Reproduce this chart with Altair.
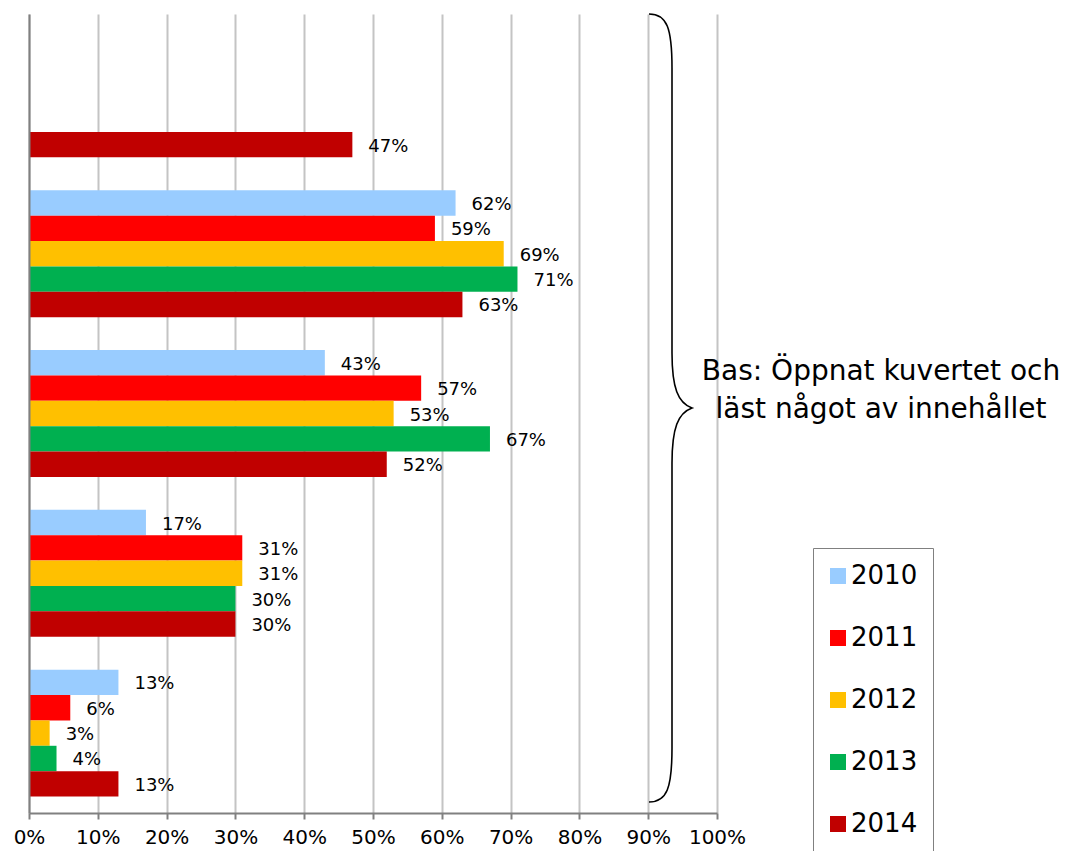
import altair as alt
import pandas as pd

FONT = "DejaVu Sans"

categories = ["Kategori 1", "Kategori 2", "Kategori 3", "Kategori 4", "Kategori 5"]
years = ["2010", "2011", "2012", "2013", "2014"]
colors = ["#99CCFF", "#FF0000", "#FFC000", "#00B050", "#C00000"]

v2010 = [None, 62, 43, 17, 13]
v2011 = [None, 59, 57, 31, 6]
v2012 = [None, 69, 53, 31, 3]
v2013 = [None, 71, 67, 30, 4]
v2014 = [47, 63, 52, 30, 13]

x_ticks = [0, 10, 20, 30, 40, 50, 60, 70, 80, 90, 100]
note_lines = ["Bas: Öppnat kuvertet och", "läst något av innehållet"]

series = [v2010, v2011, v2012, v2013, v2014]
rows = []
for yr, vals in zip(years, series):
    for cat, v in zip(categories, vals):
        if v is not None:
            rows.append({"kategori": cat, "år": yr, "värde": v, "etikett": f"{v}%"})
df = pd.DataFrame(rows)

# curly brace drawn as a custom symbol path (unit coords, scaled by sqrt(size)/2)
BRACE_PATH = (
    "M -0.0525 -0.985 C -0.0075 -0.985 0.005 -0.95 0.005 -0.85 "
    "L 0.005 -0.1375 C 0.005 -0.05 0.02 -0.0125 0.055 0 "
    "C 0.02 0.0125 0.005 0.05 0.005 0.1375 "
    "L 0.005 0.85 C 0.005 0.95 -0.0075 0.985 -0.0525 0.985"
)

base = alt.Chart(df).encode(
    y=alt.Y(
        "kategori:N",
        sort=categories,
        scale=alt.Scale(domain=categories, paddingInner=0.206, paddingOuter=0.103),
        axis=alt.Axis(title=None, labels=False, ticks=False, grid=False,
                      domainColor="#808080", domainWidth=2, zindex=1),
    ),
    yOffset=alt.YOffset("år:N", scale=alt.Scale(domain=years)),
)

bars = base.mark_bar().encode(
    x=alt.X(
        "värde:Q",
        scale=alt.Scale(domain=[0, 100]),
        axis=alt.Axis(
            values=x_ticks, labelExpr="datum.value + '%'", title=None,
            grid=True, gridColor="#C4C4C4", gridWidth=2,
            domainColor="#808080", domainWidth=2,
            tickColor="#808080", tickSize=6, tickWidth=2,
            labelFontSize=20, labelFont=FONT, labelColor="black", labelPadding=8,
            labelOverlap=False, labelFlush=False, labelBound=False,
        ),
    ),
    color=alt.Color(
        "år:N",
        scale=alt.Scale(domain=years, range=colors),
        legend=alt.Legend(
            title=" ", titleOrient="bottom", titleFontSize=26, titlePadding=12,
            orient="none", legendX=784, legendY=534,
            symbolType="square", symbolSize=256, symbolStrokeWidth=0,
            symbolOffset=-3, labelOffset=0,
            labelFontSize=26, labelFont=FONT, labelColor="black",
            strokeColor="#808080", padding=15, rowPadding=36,
        ),
    ),
)

labels = base.mark_text(
    align="left", baseline="middle", dx=16, dy=2, fontSize=18, font=FONT, color="black"
).encode(x="värde:Q", text="etikett:N")

one = pd.DataFrame({"n": [0]})

brace = alt.Chart(one).mark_point(
    shape=BRACE_PATH, size=640000, filled=False, color="black", strokeWidth=1.6, opacity=1
).encode(x=alt.value(641), y=alt.value(394))

note = alt.Chart(one).mark_text(
    text=note_lines, align="center", baseline="alphabetic",
    fontSize=28, lineHeight=38, font=FONT, color="black"
).encode(x=alt.value(852), y=alt.value(366))

chart = (
    alt.layer(bars, labels, brace, note)
    .properties(
        width=688, height=799,
        autosize=alt.AutoSizeParams(type="none"),
        padding={"left": 21, "top": 6, "right": 342, "bottom": 80},
    )
    .configure_view(strokeWidth=0)
)

chart.save("out.html", embed_options={"renderer": "svg", "actions": False})
